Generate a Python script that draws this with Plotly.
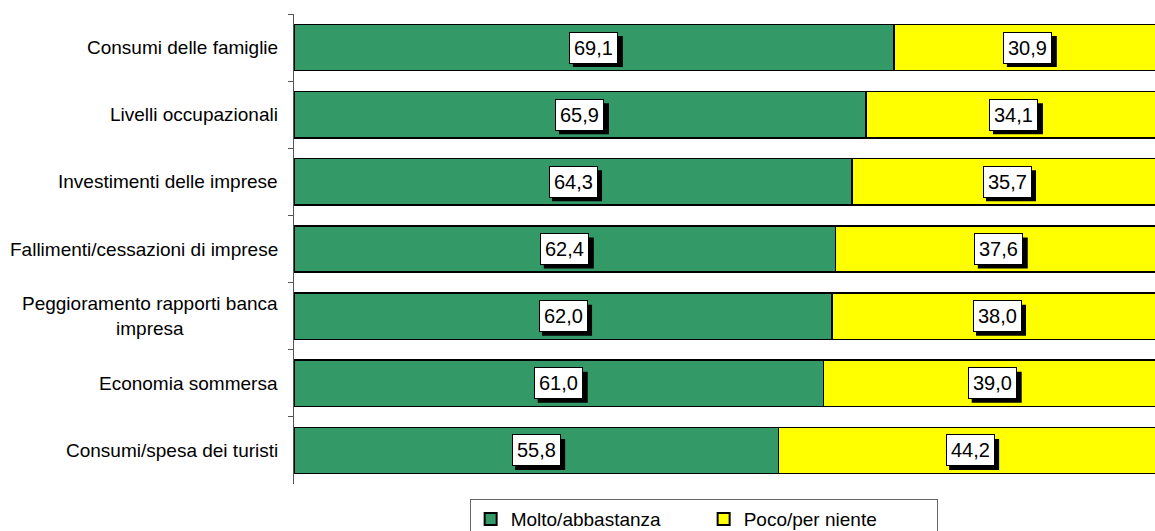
import plotly.graph_objects as go

categories = ["Consumi delle famiglie", "Livelli occupazionali", "Investimenti delle imprese",
              "Fallimenti/cessazioni di imprese", "Peggioramento rapporti banca<br>impresa",
              "Economia sommersa", "Consumi/spesa dei turisti"]
molto = [69.1, 65.9, 64.3, 62.4, 62.0, 61.0, 55.8]
poco = [30.9, 34.1, 35.7, 37.6, 38.0, 39.0, 44.2]
series_names = ["Molto/abbastanza", "Poco/per niente"]
colors = ["#339966", "#FFFF00"]

FONT = "Liberation Sans"

fig = go.Figure()
for name, vals, col in zip(series_names, [molto, poco], colors):
    fig.add_trace(go.Bar(
        y=categories, x=vals, name=name, orientation="h",
        marker=dict(color=col, line=dict(color="black", width=1.5)),
        hoverinfo="skip",
    ))

def fmt(v):
    return f"{v:.1f}".replace(".", ",")

annotations = []
shapes = []
for cat, m, p in zip(categories, molto, poco):
    for center, v in [(m / 2, m), (m + p / 2, p)]:
        # drop shadow behind the label box
        shapes.append(dict(type="rect", xref="x", yref="y", xsizemode="pixel", ysizemode="pixel",
                           xanchor=center, yanchor=cat, x0=-21, x1=29, y0=-19.5, y1=11.5,
                           fillcolor="black", line=dict(width=0), layer="above"))
        annotations.append(dict(x=center, y=cat, xref="x", yref="y", text=fmt(v),
                                showarrow=False, font=dict(family=FONT, size=20, color="black"),
                                bgcolor="white", bordercolor="black", borderwidth=1, borderpad=4))
    annotations.append(dict(x=0, y=cat, xref="paper", yref="y", text=cat, showarrow=False,
                            xanchor="right", align="center", xshift=-14,
                            font=dict(family=FONT, size=19, color="black")))

fig.update_layout(
    barmode="stack",
    bargap=0.31,
    width=1155, height=545,
    margin=dict(l=294, r=0, t=14, b=61),
    plot_bgcolor="white", paper_bgcolor="white",
    font=dict(family=FONT, size=19, color="black"),
    showlegend=True,
    legend=dict(orientation="h", x=0.204, xanchor="left", y=-0.032, yanchor="top",
                traceorder="normal",
                bordercolor="#666666", borderwidth=1, entrywidth=188,
                font=dict(family=FONT, size=19), itemsizing="constant"),
    annotations=annotations,
    shapes=shapes,
    xaxis=dict(range=[0, 99.2], visible=False, fixedrange=True),
    yaxis=dict(range=[6.5, -0.5], showticklabels=False, ticks="outside", ticklen=5,
               tickson="boundaries", tickcolor="#555555", showline=True, linecolor="#555555",
               linewidth=1, showgrid=False, zeroline=False, fixedrange=True),
)

fig.write_html("out.html", config={"displayModeBar": False},
               post_script="document.body.style.margin='0';document.body.style.overflow='hidden';"
                           "document.documentElement.style.overflow='hidden';")
